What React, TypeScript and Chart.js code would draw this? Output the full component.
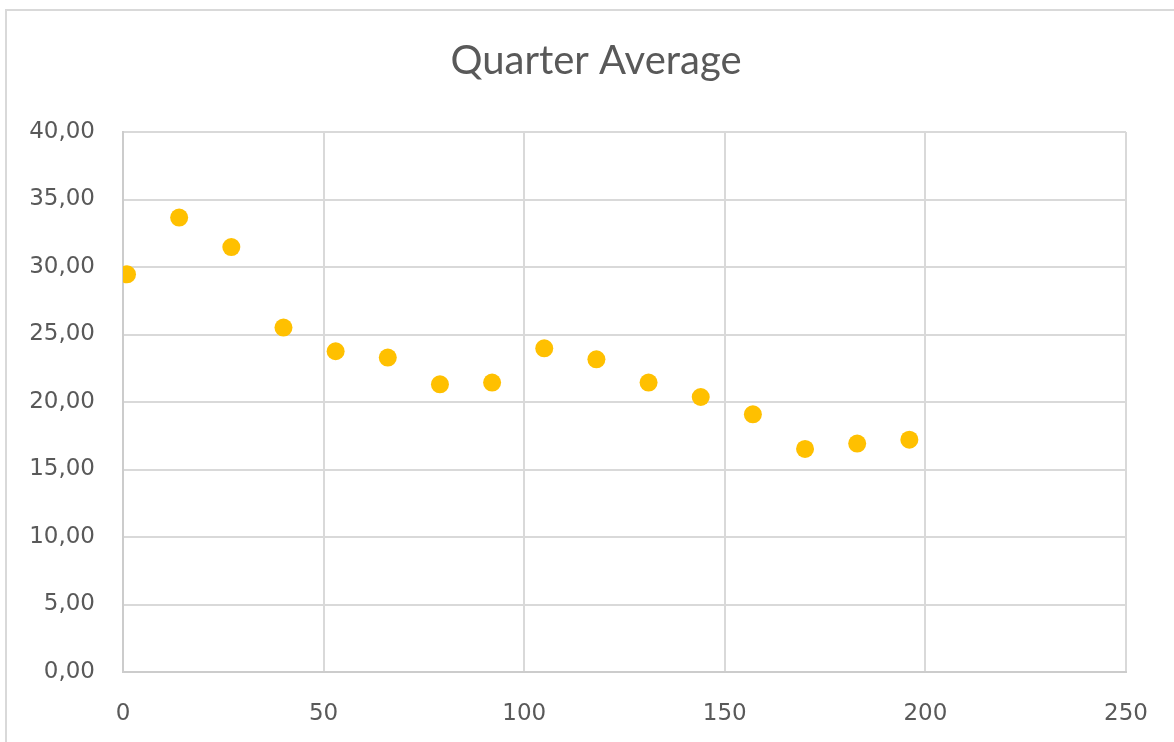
import React, { useEffect, useRef } from "react";
import { Chart, registerables } from "chart.js";

Chart.register(...registerables);

// Quarter index (x) and the quarter's average (y)
const quarterX = [1, 14, 27, 40, 53, 66, 79, 92, 105, 118, 131, 144, 157, 170, 183, 196];
const quarterAverage = [
  29.46, 33.66, 31.48, 25.51, 23.76, 23.29, 21.31, 21.44,
  23.98, 23.16, 21.44, 20.37, 19.09, 16.52, 16.92, 17.21,
];

const xRange = [0, 250];
const xStep = 50;
const yRange = [0, 40];
const yStep = 5;

const chartTitle = "Quarter Average";

const TITLE_FONT = "Lato, 'Open Sans', sans-serif";
const TICK_FONT = "'DejaVu Sans', Lato, sans-serif";
const TEXT = "#595959";
const GRID = "#D9D9D9";

export default function App() {
  const canvasRef = useRef<HTMLCanvasElement | null>(null);

  useEffect(() => {
    document.body.style.margin = "0";
    const canvas = canvasRef.current;
    if (!canvas) return;

    const chart = new Chart(canvas, {
      type: "scatter",
      data: {
        datasets: [
          {
            label: chartTitle,
            data: quarterX.map((x, i) => ({ x, y: quarterAverage[i] })),
            backgroundColor: "#FFC000",
            borderColor: "#FFC000",
            pointRadius: 9,
            pointBorderWidth: 0,
            pointHoverRadius: 9,
          },
        ],
      },
      options: {
        responsive: false,
        animation: false,
        events: [],
        layout: { padding: { left: 0, top: 0, right: 0, bottom: 49 } },
        plugins: {
          legend: { display: false },
          tooltip: { enabled: false },
          title: {
            display: true,
            text: chartTitle,
            color: TEXT,
            font: { family: TITLE_FONT, size: 40, weight: "normal" },
            padding: { top: 26, bottom: 47 },
          },
        },
        scales: {
          x: {
            type: "linear",
            min: xRange[0],
            max: xRange[1],
            border: { display: true, color: "#CCCCCC", width: 2 },
            grid: { color: GRID, lineWidth: 2, drawTicks: false },
            ticks: {
              stepSize: xStep,
              color: TEXT,
              padding: 28,
              font: { family: TICK_FONT, size: 23 },
              callback: (v) => String(v),
            },
            afterFit: (scale) => {
              scale.height = 50;
            },
          },
          y: {
            type: "linear",
            position: "left",
            min: yRange[0],
            max: yRange[1],
            border: { display: true, color: "#CCCCCC", width: 2 },
            grid: { color: GRID, lineWidth: 2, drawTicks: false },
            ticks: {
              stepSize: yStep,
              color: TEXT,
              padding: 28,
              font: { family: TICK_FONT, size: 23 },
              callback: (v) => Number(v).toFixed(2).replace(".", ","),
            },
            afterFit: (scale) => {
              scale.width = 116;
            },
          },
          // empty right-hand margin so the title stays centred on the whole frame
          yRight: {
            type: "linear",
            position: "right",
            min: yRange[0],
            max: yRange[1],
            border: { display: false },
            grid: { display: false, drawOnChartArea: false, drawTicks: false },
            ticks: { display: false },
            afterFit: (scale) => {
              scale.width = 59;
            },
          },
        },
      },
    });

    return () => chart.destroy();
  }, []);

  return (
    <div
      style={{
        position: "fixed",
        left: 0,
        top: 0,
        width: 1174,
        height: 742,
        overflow: "hidden",
        background: "#FFFFFF",
      }}
    >
      <div
        style={{
          position: "absolute",
          left: 5,
          top: 9,
          width: 1178,
          height: 760,
          border: "2px solid #D9D9D9",
          background: "#FFFFFF",
        }}
      >
        <canvas ref={canvasRef} width={1178} height={760} style={{ display: "block" }} />
      </div>
    </div>
  );
}
